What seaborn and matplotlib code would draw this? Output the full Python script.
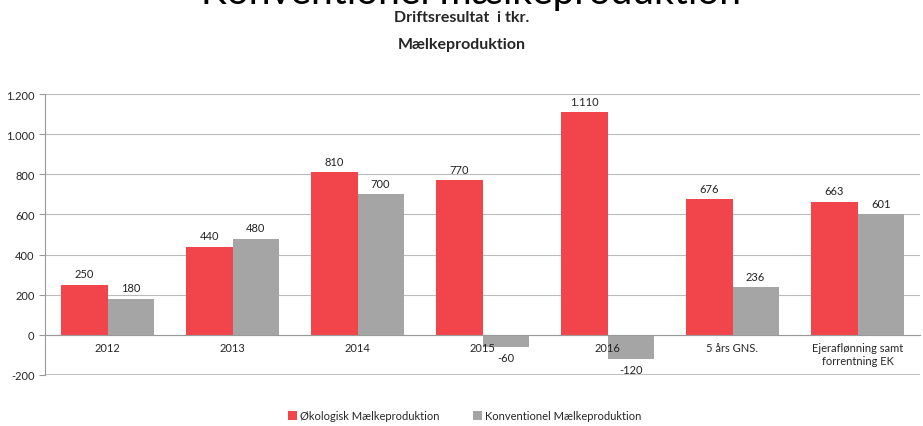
import pandas as pd
import seaborn as sns
import matplotlib.pyplot as plt
from matplotlib.ticker import FuncFormatter, FixedLocator

# Categories and values
categories = ["2012", "2013", "2014", "2015", "2016", "5 års GNS.", "Ejeraflønning samt\nforrentning EK"]
oekologisk = [250, 440, 810, 770, 1110, 676, 663]
konventionel = [180, 480, 700, -60, -120, 236, 601]
series_names = ["Økologisk Mælkeproduktion", "Konventionel Mælkeproduktion"]
colors = ["#F2454B", "#A5A5A5"]

df = pd.DataFrame({
    "Kategori": categories * 2,
    "Værdi": oekologisk + konventionel,
    "Serie": [series_names[0]] * len(categories) + [series_names[1]] * len(categories),
})

sns.set_style("white")
plt.rcParams["font.family"] = ["Lato", "DejaVu Sans"]

fig = plt.figure(figsize=(9.23, 4.27), dpi=100)
ax = fig.add_axes([45 / 923, 1 - 376 / 427, 875 / 923, 281 / 427])

sns.barplot(data=df, x="Kategori", y="Værdi", hue="Serie", palette=colors,
            width=0.74, saturation=1, linewidth=0, ax=ax, legend=True)

fmt = lambda v: f"{v:,.0f}".replace(",", ".")
for cont in ax.containers:
    ax.bar_label(cont, labels=[fmt(b.get_height()) for b in cont], padding=4,
                 fontsize=8, color="#222222")

ax.set_ylim(-200, 1200)
ax.set_yticks(range(-200, 1201, 200))
ax.yaxis.set_major_formatter(FuncFormatter(lambda v, p: fmt(v)))
# gridlines drawn behind bars, axis (tick labels) drawn above bars
for y in range(0, 1201, 200):
    ax.axhline(y, color="#BBBBBB", linewidth=0.8, zorder=0)
ax.axhline(-200, color="#BBBBBB", linewidth=2, zorder=0)
ax.set_axisbelow(False)

for s in ["top", "right"]:
    ax.spines[s].set_visible(False)
ax.spines["left"].set_color("#999999")
ax.spines["bottom"].set_color("#999999")
ax.spines["bottom"].set_position(("data", 0))

ax.tick_params(axis="x", which="major", length=0, labelsize=8, pad=5)
ax.xaxis.set_minor_locator(FixedLocator([i - 0.5 for i in range(len(categories) + 1)]))
ax.tick_params(axis="x", which="minor", length=4, color="#999999", direction="out")
ax.tick_params(axis="y", labelsize=8, length=4, color="#999999", left=True)
ax.set_xlim(-0.5, len(categories) - 0.5)
ax.set_xlabel("")
ax.set_ylabel("")

leg = ax.legend(loc="lower center", bbox_to_anchor=(0.48, -0.2), ncol=2, frameon=False,
                fontsize=8, handlelength=0.8, handleheight=0.8, handletextpad=0.3,
                columnspacing=3)

fig.text(0.51, 1 - 4 / 427, "Konventionel mælkeproduktion", ha="center", va="baseline",
         fontsize=28, color="black")
fig.text(0.5, 1 - 18 / 427, "Driftsresultat  i tkr.", ha="center", va="center",
         fontsize=11.5, fontweight="bold")
fig.text(0.5, 1 - 45 / 427, "Mælkeproduktion", ha="center", va="center",
         fontsize=11.5, fontweight="bold")

fig.savefig("out.png", dpi=100)
